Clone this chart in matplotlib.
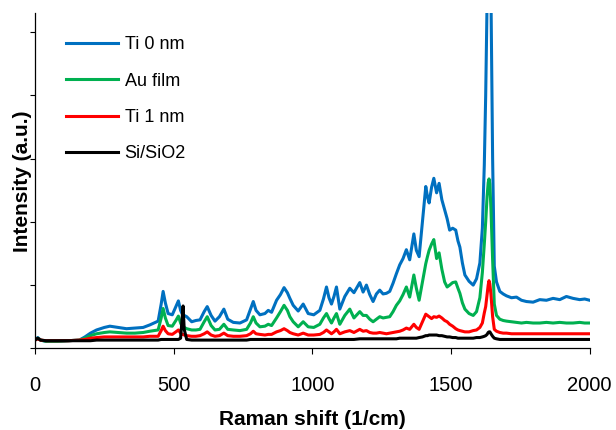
import matplotlib
matplotlib.use('Agg')
import matplotlib.pyplot as plt

# Raman shift grid (1/cm) and intensities (a.u.)
raman_shift = [0, 10, 20, 40, 80, 120, 160, 180, 200, 222, 250, 270, 300, 330, 360, 390, 414, 444,
               455, 462, 470, 480, 495, 508, 517, 525, 530, 534, 538, 547, 565, 580, 595, 610, 621,
               635, 649, 665, 681, 695, 715, 739, 763, 777, 787, 797, 811, 829, 841, 853, 871, 885,
               898, 910, 919, 931, 949, 967, 985, 1005, 1027, 1040, 1051, 1060, 1069, 1078, 1087,
               1099, 1117, 1135, 1150, 1171, 1183, 1195, 1207, 1219, 1231, 1243, 1255, 1267, 1279,
               1291, 1303, 1315, 1327, 1339, 1351, 1366, 1375, 1385, 1397, 1409, 1415, 1421, 1430,
               1438, 1448, 1457, 1467, 1477, 1486, 1495, 1506, 1517, 1525, 1532, 1541, 1550, 1565,
               1580, 1592, 1604, 1613, 1620, 1625, 1630, 1634, 1637, 1640, 1644, 1650, 1656, 1664,
               1676, 1688, 1700, 1718, 1736, 1754, 1772, 1796, 1820, 1844, 1868, 1892, 1916, 1940,
               1964, 1982, 2000]

ti0_nm = [0.13, 0.17, 0.13, 0.11, 0.11, 0.12, 0.13, 0.18, 0.24, 0.29, 0.33, 0.35, 0.33, 0.31, 0.32,
          0.33, 0.37, 0.43, 0.70, 0.90, 0.72, 0.55, 0.53, 0.66, 0.75, 0.60, 0.55, 0.53, 0.52, 0.50,
          0.42, 0.44, 0.45, 0.58, 0.66, 0.52, 0.43, 0.50, 0.62, 0.46, 0.41, 0.40, 0.45, 0.62, 0.74,
          0.60, 0.53, 0.55, 0.60, 0.57, 0.76, 0.85, 0.96, 0.88, 0.79, 0.68, 0.59, 0.70, 0.55, 0.53,
          0.60, 0.78, 0.97, 0.80, 0.70, 0.82, 0.97, 0.62, 0.82, 0.95, 0.88, 1.04, 0.89, 1.00, 0.85,
          0.74, 0.86, 0.92, 0.86, 0.87, 0.90, 1.03, 1.18, 1.32, 1.42, 1.56, 1.40, 1.81, 1.55, 1.45,
          2.00, 2.56, 2.40, 2.30, 2.55, 2.69, 2.46, 2.61, 2.35, 2.19, 2.05, 1.87, 1.90, 1.87, 1.70,
          1.60, 1.35, 1.16, 1.06, 1.00, 1.10, 1.35, 1.90, 2.90, 4.00, 5.50, 6.30, 6.50, 6.30, 5.60,
          3.00, 1.30, 1.05, 0.90, 0.86, 0.83, 0.80, 0.81, 0.76, 0.74, 0.73, 0.77, 0.76, 0.79, 0.77,
          0.82, 0.79, 0.77, 0.78, 0.76]

au_film = [0.13, 0.16, 0.13, 0.11, 0.11, 0.12, 0.13, 0.16, 0.20, 0.23, 0.25, 0.26, 0.25, 0.24, 0.24,
           0.25, 0.27, 0.29, 0.48, 0.63, 0.48, 0.36, 0.35, 0.44, 0.51, 0.40, 0.35, 0.34, 0.33, 0.31,
           0.29, 0.29, 0.30, 0.42, 0.50, 0.36, 0.29, 0.30, 0.38, 0.30, 0.29, 0.28, 0.30, 0.40, 0.50,
           0.40, 0.34, 0.35, 0.38, 0.36, 0.48, 0.58, 0.68, 0.60, 0.50, 0.42, 0.34, 0.42, 0.34, 0.33,
           0.38, 0.48, 0.55, 0.47, 0.40, 0.48, 0.55, 0.38, 0.52, 0.62, 0.48, 0.58, 0.52, 0.52, 0.46,
           0.42, 0.46, 0.50, 0.48, 0.49, 0.50, 0.58, 0.68, 0.75, 0.85, 0.97, 0.81, 1.16, 0.95, 0.76,
           1.05, 1.34, 1.45, 1.55, 1.65, 1.72, 1.42, 1.51, 1.25, 1.05, 0.97, 1.00, 1.04, 1.05, 0.95,
           0.87, 0.72, 0.62, 0.55, 0.52, 0.58, 0.80, 1.20, 1.65, 2.00, 2.40, 2.62, 2.68, 2.60, 2.20,
           1.40, 0.70, 0.52, 0.46, 0.44, 0.43, 0.42, 0.41, 0.40, 0.41, 0.40, 0.40, 0.41, 0.40, 0.41,
           0.40, 0.40, 0.41, 0.40, 0.40]

ti1_nm = [0.13, 0.15, 0.13, 0.12, 0.12, 0.12, 0.13, 0.14, 0.16, 0.17, 0.18, 0.18, 0.18, 0.18, 0.18,
          0.18, 0.19, 0.19, 0.28, 0.35, 0.28, 0.23, 0.22, 0.26, 0.29, 0.24, 0.22, 0.22, 0.21, 0.20,
          0.19, 0.19, 0.20, 0.23, 0.26, 0.21, 0.19, 0.20, 0.24, 0.20, 0.19, 0.19, 0.20, 0.23, 0.27,
          0.23, 0.22, 0.21, 0.22, 0.22, 0.26, 0.28, 0.31, 0.28, 0.25, 0.23, 0.21, 0.24, 0.21, 0.21,
          0.22, 0.25, 0.29, 0.26, 0.23, 0.26, 0.30, 0.23, 0.26, 0.28, 0.25, 0.30, 0.27, 0.28, 0.25,
          0.24, 0.24, 0.25, 0.24, 0.23, 0.24, 0.25, 0.26, 0.27, 0.29, 0.32, 0.30, 0.38, 0.33, 0.30,
          0.42, 0.54, 0.52, 0.50, 0.47, 0.50, 0.49, 0.51, 0.48, 0.44, 0.42, 0.38, 0.35, 0.31, 0.29,
          0.28, 0.27, 0.26, 0.26, 0.28, 0.29, 0.33, 0.40, 0.56, 0.66, 0.85, 1.00, 1.07, 1.02, 0.85,
          0.50, 0.30, 0.27, 0.25, 0.24, 0.24, 0.23, 0.23, 0.23, 0.23, 0.23, 0.23, 0.23, 0.23, 0.23,
          0.23, 0.23, 0.23, 0.23, 0.23]

si_sio2 = [0.13, 0.16, 0.13, 0.12, 0.12, 0.12, 0.12, 0.12, 0.12, 0.13, 0.13, 0.13, 0.13, 0.13, 0.13,
           0.13, 0.13, 0.13, 0.14, 0.14, 0.14, 0.14, 0.14, 0.14, 0.14, 0.16, 0.45, 0.67, 0.30, 0.14,
           0.13, 0.13, 0.13, 0.13, 0.13, 0.13, 0.13, 0.13, 0.13, 0.13, 0.13, 0.13, 0.13, 0.14, 0.14,
           0.14, 0.14, 0.14, 0.14, 0.14, 0.14, 0.14, 0.14, 0.14, 0.14, 0.14, 0.14, 0.14, 0.14, 0.14,
           0.14, 0.14, 0.14, 0.14, 0.14, 0.14, 0.14, 0.14, 0.14, 0.14, 0.14, 0.15, 0.15, 0.15, 0.15,
           0.15, 0.15, 0.15, 0.15, 0.15, 0.15, 0.15, 0.15, 0.16, 0.16, 0.16, 0.16, 0.16, 0.16, 0.17,
           0.18, 0.20, 0.20, 0.21, 0.21, 0.21, 0.21, 0.20, 0.20, 0.19, 0.18, 0.18, 0.17, 0.17, 0.16,
           0.16, 0.16, 0.16, 0.16, 0.16, 0.17, 0.17, 0.18, 0.19, 0.20, 0.22, 0.25, 0.26, 0.26, 0.23,
           0.19, 0.16, 0.15, 0.14, 0.14, 0.14, 0.14, 0.14, 0.14, 0.14, 0.14, 0.14, 0.14, 0.14, 0.14,
           0.14, 0.14, 0.14, 0.14, 0.14]

series = [('Ti 0 nm', ti0_nm, '#0070C0'),
          ('Au film', au_film, '#00B050'),
          ('Ti 1 nm', ti1_nm, '#FF0000'),
          ('Si/SiO2', si_sio2, '#000000')]

plt.rcParams['font.family'] = ['Liberation Sans', 'DejaVu Sans']

fig = plt.figure(figsize=(6.16, 4.30), dpi=100)
ax = fig.add_axes([0.0568, 0.19, 0.9005, 0.779])

for name, values, color in series:
    ax.plot(raman_shift, values, color=color, lw=2.2, label=name)

ax.set_xlim(0, 2000)
ax.set_ylim(0, 5.3)
ax.set_xticks([0, 500, 1000, 1500, 2000])
ax.set_yticks([0, 1, 2, 3, 4, 5])
ax.set_yticklabels([])

ax.spines['top'].set_visible(False)
ax.spines['right'].set_visible(False)
ax.spines['left'].set_linewidth(0.9)
ax.spines['bottom'].set_linewidth(0.9)
ax.tick_params(axis='x', direction='out', length=4.3, width=0.8, pad=16, labelsize=14.5)
ax.tick_params(axis='y', direction='out', length=3.6, width=0.8)

ax.set_xlabel('Raman shift (1/cm)', fontsize=15, fontweight='bold')
ax.set_ylabel('Intensity (a.u.)', fontsize=15, fontweight='bold')
ax.xaxis.set_label_coords(0.5, -0.184)
ax.yaxis.set_label_coords(-0.006, 0.5)

ax.legend(loc='upper left', bbox_to_anchor=(0.0559, 0.931), frameon=False, fontsize=13,
          handlelength=2.9, handletextpad=0.35, labelspacing=1.07, borderpad=0, borderaxespad=0)

fig.savefig('out.png', dpi=100)
